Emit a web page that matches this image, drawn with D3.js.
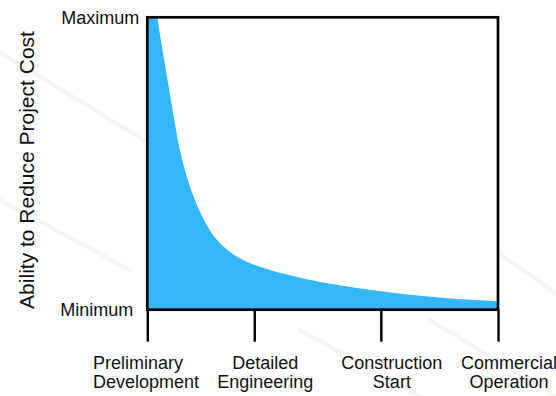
<!DOCTYPE html>
<html>
<head>
<meta charset="utf-8">
<script src="https://cdn.jsdelivr.net/npm/d3@7"></script>
<style>
  html, body { margin: 0; padding: 0; background: #ffffff; }
  svg { display: block; }
  text { font-family: "Liberation Sans", Arial, Helvetica, sans-serif; fill: #111; }
</style>
</head>
<body>
<svg id="chart" width="556" height="396"></svg>
<script>
// ---- data ----
const stagePositions = [0, 30.5, 66.6, 100];           // % of project timeline
const stageLine1 = ["Preliminary", "Detailed", "Construction", "Commercial"];
const stageLine2 = ["Development", "Engineering", "Start", "Operation"];

const curveX = [0, 2.85, 5.0, 7.2, 9.3, 11.5, 13.6, 15.8, 18.4, 21.0, 24.1, 29.3, 35.0, 44.5, 54.0, 63.5, 73.0, 82.5, 92.0, 100];
const curveY = [125, 100, 84, 68.5, 54.6, 44.5, 37.5, 31.5, 26.1, 22.5, 19.3, 15.9, 13.6, 10.7, 8.5, 6.8, 5.4, 4.3, 3.4, 2.9];

const yTickValues = [0, 100];
const yTickLabels = ["Minimum", "Maximum"];
const yTitle = "Ability to Reduce Project Cost";

// ---- layout ----
const svg = d3.select("#chart");
const plot = { left: 147.3, right: 498, top: 17.3, bottom: 309.7 };

const x = d3.scaleLinear().domain([0, 100]).range([plot.left, plot.right]);
const y = d3.scaleLinear().domain([0, 100]).range([plot.bottom, plot.top]);

// very faint decorative background streaks
const streaks = svg.append("g");
[[-20, 40, 160, 150], [0, 200, 130, 270], [480, 240, 580, 310], [300, 330, 420, 396], [430, 320, 556, 396]]
  .forEach(s => streaks.append("line")
    .attr("x1", s[0]).attr("y1", s[1]).attr("x2", s[2]).attr("y2", s[3])
    .attr("stroke", "#f5f5f5").attr("stroke-width", 4).attr("stroke-linecap", "round"));

// plot background
svg.append("rect")
  .attr("x", plot.left).attr("y", plot.top)
  .attr("width", plot.right - plot.left).attr("height", plot.bottom - plot.top)
  .attr("fill", "#ffffff");

// clip
svg.append("clipPath").attr("id", "clip")
  .append("rect")
  .attr("x", plot.left).attr("y", plot.top)
  .attr("width", plot.right - plot.left).attr("height", plot.bottom - plot.top);

const pts = curveX.map((d, i) => [d, curveY[i]]);
const area = d3.area()
  .x(d => x(d[0]))
  .y0(y(0))
  .y1(d => y(d[1]))
  .curve(d3.curveMonotoneX);

svg.append("path")
  .datum(pts)
  .attr("clip-path", "url(#clip)")
  .attr("d", area)
  .attr("fill", "#35b6f7");

// frame
svg.append("rect")
  .attr("x", plot.left).attr("y", plot.top)
  .attr("width", plot.right - plot.left).attr("height", plot.bottom - plot.top)
  .attr("fill", "none")
  .attr("stroke", "#000")
  .attr("stroke-width", 2.7);

// x axis ticks
const xAxis = d3.axisBottom(x)
  .tickValues(stagePositions)
  .tickSize(32)
  .tickSizeOuter(0)
  .tickFormat("");
const gx = svg.append("g")
  .attr("transform", `translate(0,${plot.bottom})`)
  .call(xAxis);
gx.select(".domain").remove();
gx.selectAll(".tick line").attr("stroke", "#000").attr("stroke-width", 2.4);

// x labels (two lines)
const labels = svg.append("g")
  .selectAll("text")
  .data(stagePositions)
  .join("text")
  .attr("font-size", 18)
  .attr("text-anchor", (d, i) => i === 0 ? "start" : "middle")
  .attr("transform", (d, i) => `translate(${i === 0 ? 93 : x(d) + 11},369)`);
labels.append("tspan").attr("x", 0).attr("y", 0).text((d, i) => stageLine1[i]);
labels.append("tspan").attr("x", 0).attr("y", 19).text((d, i) => stageLine2[i]);

// y tick labels
svg.append("g")
  .selectAll("text")
  .data(yTickValues)
  .join("text")
  .attr("font-size", 18)
  .attr("text-anchor", "end")
  .attr("x", (d, i) => i === 0 ? plot.left - 14 : plot.left - 8)
  .attr("y", d => y(d) + 6.5)
  .text((d, i) => yTickLabels[i]);

// y title
svg.append("text")
  .attr("font-size", 21)
  .attr("text-anchor", "middle")
  .attr("transform", `translate(34,170) rotate(-90)`)
  .text(yTitle);
</script>
</body>
</html>
